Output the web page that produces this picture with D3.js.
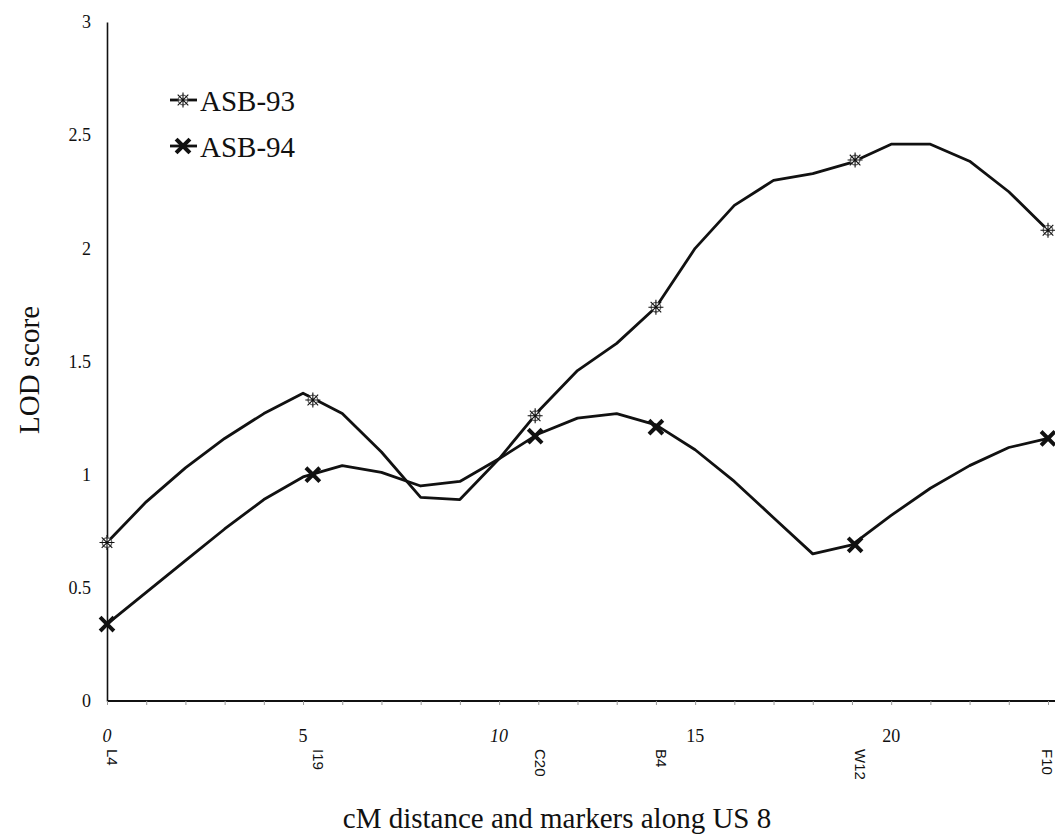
<!DOCTYPE html>
<html>
<head>
<meta charset="utf-8">
<script src="https://cdn.jsdelivr.net/npm/d3@7"></script>
<style>
  body { margin: 0; background: #fff; }
  svg { display: block; }
</style>
</head>
<body>
<div id="chart"><svg width="1055" height="835"></svg></div>
<script>
// cM positions of the curve vertices
const cmPositions = [0, 1, 2, 3, 4, 5, 6, 7, 8, 9, 10, 11, 12, 13, 14, 15, 16, 17, 18, 19, 20, 21, 22, 23, 24];

// LOD score along the chromosome
const asb93 = [0.70, 0.88, 1.03, 1.16, 1.27, 1.36, 1.27, 1.10, 0.90, 0.89, 1.07, 1.28, 1.46, 1.58,
               1.74, 2.00, 2.19, 2.30, 2.33, 2.38, 2.46, 2.46, 2.385, 2.25, 2.08];
const asb94 = [0.34, 0.48, 0.62, 0.76, 0.89, 0.99, 1.04, 1.01, 0.95, 0.97, 1.07, 1.18, 1.25, 1.27,
               1.22, 1.11, 0.97, 0.81, 0.65, 0.69, 0.82, 0.94, 1.04, 1.12, 1.16];

// markers along US 8
const markerNames = ["L4", "I19", "C20", "B4", "W12", "F10"];
const markerPos = [0, 5.25, 10.92, 14.0, 19.08, 24];
const markerAsb93 = [0.70, 1.33, 1.26, 1.74, 2.39, 2.08];
const markerAsb94 = [0.34, 1.00, 1.17, 1.21, 0.69, 1.16];

const xTicks = [0, 5, 10, 15, 20];
const yTicks = [0, 0.5, 1, 1.5, 2, 2.5, 3];

const seriesNames = ["ASB-93", "ASB-94"];

/**********************
***** BASIC SETUP *****
**********************/
const svg = d3.select("#chart").select("svg");
const width = 1055;
const height = 835;
const margin = {top: 22, left: 107, right: 2, bottom: 134};

const serif = "'Liberation Serif', 'Times New Roman', serif";

/***********************
***** X & Y SCALES *****
***********************/
const xScale = d3.scaleLinear()
    .domain([0, 24])
    .range([margin.left, 1048]);

const yScale = d3.scaleLinear()
    .domain([0, 3])
    .range([height - margin.bottom, margin.top]);

/****************
***** AXES *****
****************/
// y axis
const yAxis = svg.append("g")
    .attr("transform", `translate(${margin.left}, 0)`)
    .call(d3.axisLeft(yScale)
        .tickValues(yTicks)
        .tickSize(0)
        .tickPadding(16)
        .tickFormat(d3.format("")));
yAxis.select(".domain")
    .attr("stroke", "#111")
    .attr("stroke-width", 1.6);
yAxis.selectAll("text")
    .style("font-family", serif)
    .style("font-size", "18px")
    .attr("fill", "#111");

// x axis line + faint unit ticks
const xAxis = svg.append("g")
    .attr("transform", `translate(0, ${yScale(0)})`)
    .call(d3.axisBottom(xScale)
        .tickValues(cmPositions)
        .tickSize(4)
        .tickSizeOuter(0)
        .tickFormat(""));
xAxis.select(".domain")
    .attr("d", `M${margin.left},0H${width}`)
    .attr("stroke", "#111")
    .attr("stroke-width", 1.8);
xAxis.selectAll(".tick line")
    .attr("stroke", "#999")
    .attr("stroke-width", 1);

// cM tick labels
svg.append("g")
    .selectAll("text")
    .data(xTicks)
    .join("text")
    .attr("x", d => xScale(d))
    .attr("y", 742)
    .attr("text-anchor", "middle")
    .style("font-family", serif)
    .style("font-size", "18px")
    .style("font-style", d => (d === 0 || d === 10) ? "italic" : "normal")
    .attr("fill", "#111")
    .text(d => d);

// marker names, rotated (last one kept inside the page edge)
svg.append("g")
    .selectAll("text")
    .data(markerNames)
    .join("text")
    .attr("transform", (d, i) => `translate(${Math.min(xScale(markerPos[i]), width - 13)}, 749) rotate(90)`)
    .attr("text-anchor", "start")
    .style("font-family", "'Liberation Sans', Arial, sans-serif")
    .style("font-size", "15px")
    .attr("fill", "#111")
    .text(d => d);

// axis titles
svg.append("text")
    .attr("x", 557)
    .attr("y", 828)
    .attr("text-anchor", "middle")
    .style("font-family", serif)
    .style("font-size", "29px")
    .attr("fill", "#111")
    .text("cM distance and markers along US 8");

svg.append("text")
    .attr("transform", "translate(39, 370) rotate(-90)")
    .attr("text-anchor", "middle")
    .style("font-family", serif)
    .style("font-size", "29px")
    .attr("fill", "#111")
    .text("LOD score");

/*****************
***** SYMBOLS *****
*****************/
function drawStar(g, x, y) {
    const s = g.append("g").attr("transform", `translate(${x}, ${y})`);
    s.append("circle")
        .attr("r", 4.8)
        .attr("fill", "#fff")
        .attr("stroke", "#666")
        .attr("stroke-width", 1.3);
    s.append("path")
        .attr("d", "M0,-7.5V7.5M-7.5,0H7.5M-5.3,-5.3L5.3,5.3M-5.3,5.3L5.3,-5.3")
        .attr("stroke", "#111")
        .attr("stroke-width", 1.1);
}

function drawCross(g, x, y) {
    g.append("path")
        .attr("transform", `translate(${x}, ${y})`)
        .attr("d", "M-5.5,-5.5L5.5,5.5M-5.5,5.5L5.5,-5.5")
        .attr("stroke", "#111")
        .attr("stroke-width", 4)
        .attr("stroke-linecap", "square");
}

/***************************
***** LINES AND MARKERS *****
***************************/
const plot = svg.append("g");

const line = d3.line()
    .x((d, i) => xScale(cmPositions[i]))
    .y(d => yScale(d));

[asb93, asb94].forEach(vals => {
    plot.append("path")
        .datum(vals)
        .attr("d", line)
        .attr("fill", "none")
        .attr("stroke", "#111")
        .attr("stroke-width", 2.8)
        .attr("stroke-linejoin", "round");
});

markerPos.forEach((p, i) => {
    drawStar(plot, xScale(p), yScale(markerAsb93[i]));
    drawCross(plot, xScale(p), yScale(markerAsb94[i]));
});

/*****************
***** LEGEND *****
*****************/
const legend = svg.append("g");
const legendY = [100, 146];

seriesNames.forEach((name, i) => {
    legend.append("line")
        .attr("x1", 170).attr("x2", 197)
        .attr("y1", legendY[i]).attr("y2", legendY[i])
        .attr("stroke", "#111")
        .attr("stroke-width", 2.8);
    if (i === 0) drawStar(legend, 183, legendY[i]);
    else drawCross(legend, 183, legendY[i]);
    legend.append("text")
        .attr("x", 200)
        .attr("y", legendY[i] + 11)
        .style("font-family", serif)
        .style("font-size", "29px")
        .attr("fill", "#111")
        .text(name);
});
</script>
</body>
</html>
